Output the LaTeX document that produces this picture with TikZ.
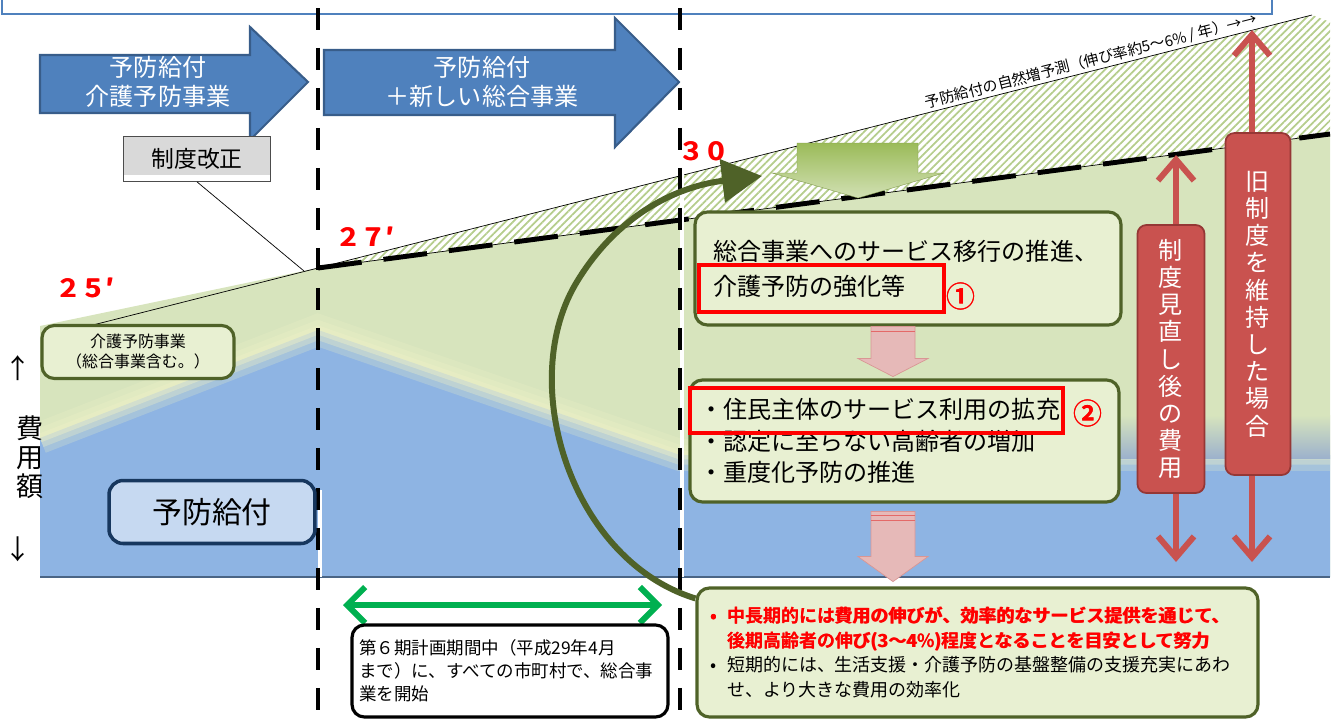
\documentclass[tikz,border=0pt]{standalone}
\usepackage{fontspec}
\setmainfont{Noto Sans CJK JP}
\IfFontExistsTF{Noto Sans CJK JP Bold}
  {\newfontfamily\jpbold{Noto Sans CJK JP Bold}}
  {\newfontfamily\jpbold{Noto Sans CJK JP}}
\newcommand\heavy[1]{\rlap{#1}\kern0.45pt#1}
\usetikzlibrary{arrows.meta,patterns.meta,calc}

\definecolor{arrowblue}{HTML}{4F81BD}
\definecolor{arrowedge}{HTML}{385D8A}
\definecolor{areagreen}{HTML}{D7E4BD}
\definecolor{areablue}{HTML}{8EB4E3}
\definecolor{bandblue}{HTML}{9DB2CC}
\definecolor{baseblue}{HTML}{4A6585}
\definecolor{hatchgreen}{HTML}{B5CD8C}
\definecolor{fadeyellow}{HTML}{EDF0C6}
\definecolor{darkolive}{HTML}{4F6228}
\definecolor{boxgreen}{HTML}{E8F0D2}
\definecolor{boxblue}{HTML}{C6D9F1}
\definecolor{navyedge}{HTML}{17375E}
\definecolor{costred}{HTML}{C9524F}
\definecolor{costedge}{HTML}{953735}
\definecolor{pinkfill}{HTML}{E6B9B8}
\definecolor{pinkedge}{HTML}{D99694}
\definecolor{planred}{HTML}{FF0000}
\definecolor{spangreen}{HTML}{00B050}
\definecolor{downgreen}{HTML}{9BBB59}

\tikzset{
  blockarrow/.style={fill=arrowblue, draw=arrowedge, line width=1.2pt},
  arrowtext/.style={text=white, align=center, font=\fontsize{13.7pt}{16.5pt}\selectfont},
  reformbox/.style={fill=gray!30, draw=gray!60!black, thin, minimum width=2.94cm, minimum height=0.9cm,
    font=\fontsize{13pt}{13pt}\selectfont,
    path picture={\fill[white] (path picture bounding box.south west) rectangle ([yshift=0.12cm]path picture bounding box.south east);}},
  greenbox/.style={draw=darkolive, fill=boxgreen, line width=1.8pt, rounded corners=7pt, inner ysep=0pt},
  bluebox/.style={draw=navyedge, fill=boxblue, line width=2pt, rounded corners=8pt,
    minimum width=4.12cm, minimum height=1.26cm, font=\fontsize{17pt}{17pt}\selectfont},
  axistext/.style={inner sep=0pt, font=\fontsize{15.4pt}{16.5pt}\selectfont},
  yearlabel/.style={text=planred, font=\jpbold\fontsize{14.2pt}{14.2pt}\selectfont},
  growthtext/.style={inner sep=1pt, font=\fontsize{8.5pt}{8.5pt}\selectfont},
  costarrow/.style={costred, line width=3.4pt,
    {Straight Barb[length=0.42cm,width=0.72cm]}-{Straight Barb[length=0.42cm,width=0.72cm]}},
  costbox/.style={fill=costred, draw=costedge, line width=1pt, rounded corners=5pt, text=white,
    align=center, inner sep=0pt, font=\fontsize{13.7pt}{15.5pt}\selectfont},
  planframe/.style={draw=planred, line width=2.8pt},
  circlenum/.style={text=planred, inner sep=0pt, font=\jpbold\fontsize{16.5pt}{16.5pt}\selectfont},
  pinkarrow/.style={fill=pinkfill, draw=pinkedge, thin},
  returnarrow/.style={darkolive, line width=3.4pt, -{Triangle[length=0.8cm,width=0.85cm]}},
  spanarrow/.style={spangreen, line width=3.4pt,
    {Straight Barb[length=0.36cm,width=0.72cm]}-{Straight Barb[length=0.36cm,width=0.72cm]}},
}

\begin{document}
\begin{tikzpicture}[x=0.02cm, y=-0.02cm]
  \useasboundingbox (0,0) rectangle (1335,720);
  %frame at the top
  \draw [arrowblue, line width=1.2pt] (2,-10) -- (2,14) -- (1272,14) -- (1272,-10);

  %cost areas
  \fill [pattern={Lines[angle=45,distance=3pt,line width=1pt]}, pattern color=hatchgreen]
    (318,268) -- (1312,15) -- (1330,22) -- (1330,134) -- cycle;
  \fill [areagreen] (40,326) -- (318,268) -- (1330,134) -- (1330,577) -- (40,577) -- cycle;
  \fill [areablue] (40,438) -- (318,330) -- (680,455) -- (1330,455) -- (1330,577) -- (40,577) -- cycle;
  \begin{scope}
    \clip (40,200) rectangle (1330,577);
    \foreach \w/\o in {18/0.25, 11/0.35, 5/0.45}
      \draw [fadeyellow, line width=\w pt, opacity=\o] (40,438) -- (318,330) -- (680,455) -- (1330,455);
  \end{scope}
  \shade [top color=areagreen, bottom color=bandblue] (1119,415) rectangle (1330,458);
  \draw [baseblue, line width=1.2pt] (40,577) -- (1330,577);

  %growth lines
  \draw [thin] (89,326) -- (318,268) -- (1312,15);
  \path (318,268) -- (1312,15) node [growthtext, pos=0.78, sloped, above] (growth)
    {予防給付の自然増予測（伸び率約5～6\% / 年）→→};
  \draw [thin] (318,268) -- (1330,134);
  \draw [line width=2.8pt, dash pattern=on 0.88cm off 0.44cm] (318,268) -- (1330,134);

  %period boundaries
  \draw [white, line width=2.6pt] (320,490) -- (320,577);
  \draw [white, line width=2.6pt] (682,170) -- (682,577);
  \foreach \xx in {318,680}
    \draw [line width=2.6pt, dash pattern=on 0.44cm off 0.36cm] (\xx,8) -- (\xx,720);

  %phase arrows
  \draw [blockarrow] (40,55) -- (250,55) -- (250,27) -- (308,82) -- (250,140) -- (250,113) -- (40,113) -- cycle;
  \node [arrowtext] (phase1) at (158,82) {予防給付\\介護予防事業};
  \draw [blockarrow] (324,50) -- (615,50) -- (615,18) -- (679,82) -- (615,147) -- (615,115) -- (324,115) -- cycle;
  \node [arrowtext] (phase2) at (482,82) {予防給付\\＋新しい総合事業};

  \node [reformbox] (reform) at (197,159) {制度改正};
  \coordinate (reformpt) at (304,271);
  \draw [thin] (reform.south) -- (reformpt);

  \node [greenbox, minimum width=3.84cm, minimum height=1.06cm, align=center,
    font=\fontsize{9.1pt}{11.4pt}\selectfont] (kaigo) at (138,352) {介護予防事業\\（総合事業含む。）};
  \node [bluebox] (kyufu) at (212,512) {予防給付};

  %axis
  \node [axistext] (up) at (18,368) {↑};
  \node [axistext, align=center] (cost) at (30,457) {費\\用\\額};
  \node [axistext] (down) at (18,549) {↓};

  %years
  \node [yearlabel] (y25) at (85,288) {\heavy{２５′}};
  \node [yearlabel] (y27) at (365,237) {\heavy{２７′}};
  \node [yearlabel] (y30) at (704,151) {\heavy{３０}};

  %cost arrows
  \coordinate (r1top) at (1176,155);
  \coordinate (r1bot) at (1176,562);
  \draw [costarrow] (r1top) -- (r1bot);
  \node [costbox, minimum width=1.34cm, minimum height=5.36cm] (after) at (1171,359)
    {制\\度\\見\\直\\し\\後\\の\\費\\用};
  \coordinate (r2top) at (1252,30);
  \coordinate (r2bot) at (1252,562);
  \draw [costarrow] (r2top) -- (r2bot);
  \node [costbox, minimum width=1.3cm, minimum height=6.84cm] (before) at (1258,304)
    {旧\\制\\度\\を\\維\\持\\し\\た\\場\\合};

  %steps
  \node [greenbox, text width=7.8cm, inner xsep=0.36cm, minimum height=2.26cm, align=left,
    font=\fontsize{13.7pt}{19.9pt}\selectfont] (stepA) at (908,268.5)
    {総合事業へのサービス移行の推進、\\介護予防の強化等};
  \draw [planframe] (699,265) rectangle (944,312);
  \node [circlenum] (num1) at (961,296) {\heavy{①}};

  \node [greenbox, text width=8.22cm, inner xsep=0.18cm, minimum height=2.44cm, align=left,
    font=\fontsize{13.7pt}{17.9pt}\selectfont] (stepB) at (904.5,441)
    {・住民主体のサービス利用の拡充\\・認定に至らない高齢者の増加\\・重度化予防の推進};
  \draw [planframe] (690,388) rectangle (1063,433);
  \node [circlenum] (num2) at (1088,413) {\heavy{②}};

  \draw [pinkarrow] ($(stepA.south)+(-37,0)$) -- ++(44,0) -- ++(0,32) -- ++(13,0) -- ++(-35,18) -- ++(-35,-18) -- ++(13,0) -- cycle;
  \draw [pinkedge!70!red] ($(stepA.south)+(-37,5)$) -- ++(44,0);
  \draw [pinkarrow] ($(stepB.south)+(-33.5,8)$) -- ++(44,0) -- ++(0,45) -- ++(13,0) -- ++(-35,25) -- ++(-35,-25) -- ++(13,0) -- cycle;
  \draw [pinkedge!70!red] ($(stepB.south)+(-33.5,12)$) -- ++(44,0);
  \draw [pinkedge!70!red] ($(stepB.south)+(-33.5,17)$) -- ++(44,0);

  %reduction arrow
  \shade [top color=downgreen, bottom color=downgreen!45!white, draw=downgreen!80!black, very thin]
    (797,143) -- (918,143) -- (918,173) -- (944,173) -- (858,198) -- (772,173) -- (797,173) -- cycle;

  %bottom notes
  \node [greenbox, text width=10.7cm, inner xsep=0.26cm, minimum height=2.58cm, align=left,
    font=\fontsize{10.24pt}{14pt}\selectfont] (summary) at (977.5,652.5)
    {\textcolor{planred}{\jpbold\heavy{\makebox[0.34cm][l]{•}中長期的には費用の伸びが、効率的なサービス提供を通じて、}}\\
     \textcolor{planred}{\jpbold\heavy{\hspace*{0.34cm}後期高齢者の伸び(3～4\%)程度となることを目安として努力}}\\
     \makebox[0.34cm][l]{•}短期的には、生活支援・介護予防の基盤整備の支援充実にあわ\\
     \hspace*{0.34cm}せ、より大きな費用の効率化};

  \coordinate (curveend) at (762,176);
  \draw [returnarrow] ($(summary.north west)+(0,12)$) .. controls (570,560) and (515,380) .. (578,280)
    .. controls (620,212) and (680,186) .. (curveend);

  \coordinate (spanL) at (343,605);
  \coordinate (spanR) at (662,605);
  \draw [spanarrow] (spanL) -- (spanR);
  \node [draw, line width=1.8pt, rounded corners=7pt, fill=white, text width=6.04cm, inner xsep=0.14cm,
    inner ysep=0pt, minimum height=1.84cm, align=left, font=\fontsize{9.96pt}{13.1pt}\selectfont] (period) at (510,671)
    {第６期計画期間中（平成29年4月\\まで）に、すべての市町村で、総合事\\業を開始};
\end{tikzpicture}
\end{document}
